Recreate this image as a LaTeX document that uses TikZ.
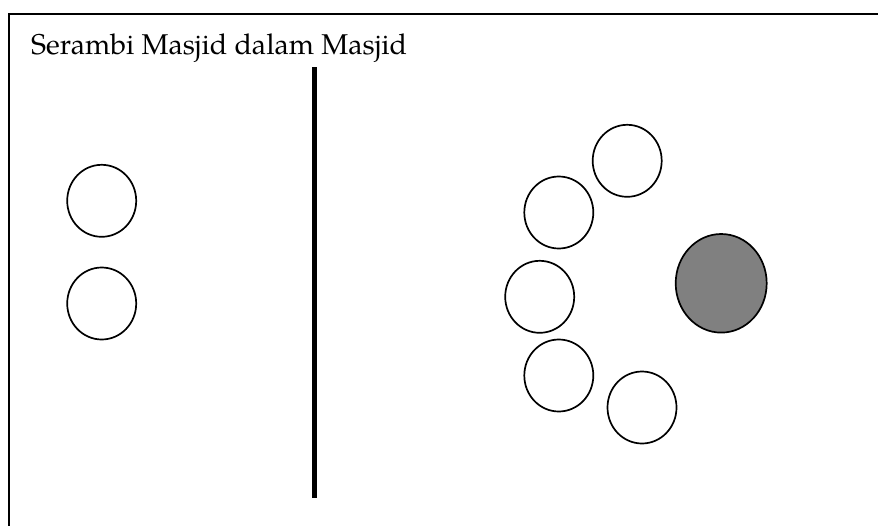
\documentclass[tikz,border=0pt]{standalone}
\usepackage{fontspec}
\setmainfont{TeX Gyre Pagella}
\usetikzlibrary{shapes.geometric}
\begin{document}
\begin{tikzpicture}[x=1pt,y=-1pt,
  seat/.style={ellipse,draw=black,line width=1.7pt,fill=white,inner sep=0pt,minimum width=69pt,minimum height=72pt},
  imam/.style={ellipse,draw=black,line width=1.7pt,fill=black!50,inner sep=0pt,minimum width=91pt,minimum height=98.6pt}]
\useasboundingbox (0,0) rectangle (878,525);
\draw[line width=2.2pt] (8.7,560) -- (8.7,13.8) -- (900,13.8);
\node[anchor=base west,inner sep=0pt,font=\fontsize{28.6}{34}\selectfont] (title) at (31,54.5) {Serambi Masjid dalam Masjid};
\coordinate (wtop) at (314.7,67);
\coordinate (wbot) at (314.7,498);
\draw[line width=5pt] (wtop) -- (wbot);
\node[seat] (l1) at (101.7,200.8) {};
\node[seat] (l2) at (101.7,303.5) {};
\node[seat] (r1) at (627.2,160.8) {};
\node[seat] (r2) at (558.8,212.5) {};
\node[seat] (r3) at (539.7,296.8) {};
\node[seat] (r4) at (558.8,375.5) {};
\node[seat] (r5) at (642,407.5) {};
\node[imam] (im) at (721.2,283.3) {};
\end{tikzpicture}
\end{document}
